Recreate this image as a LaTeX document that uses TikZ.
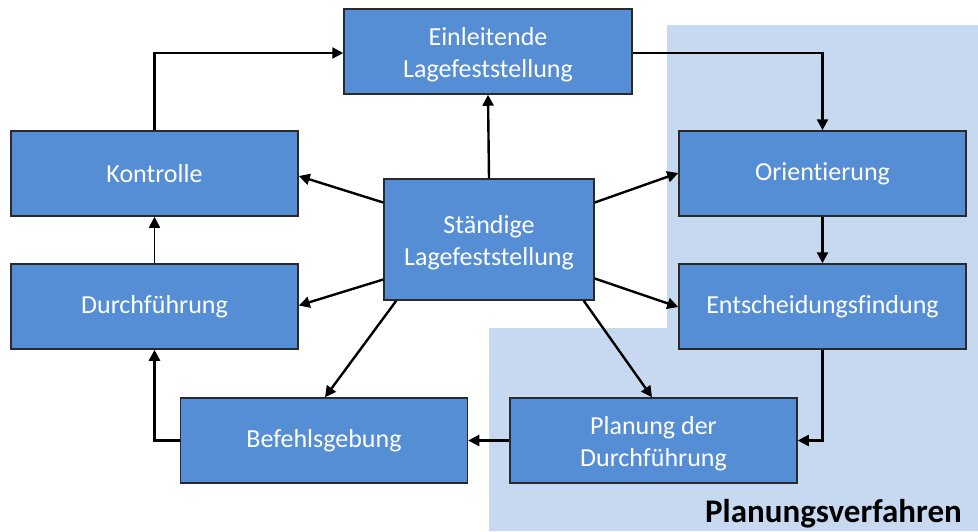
\documentclass[tikz,border=0pt]{standalone}
\usepackage{fontspec}
\setmainfont{Carlito}[Ligatures=NoCommon]
\usetikzlibrary{arrows.meta,calc}
\definecolor{boxblue}{HTML}{558ED5}
\definecolor{boxline}{HTML}{2A2A2A}
\definecolor{bgblue}{HTML}{C6D9F1}
\newcommand{\twolines}[2]{\raisebox{-4pt}[\height][\depth]{\begin{tabular}{@{}c@{}}#1\\#2\end{tabular}}}
\tikzset{
  stepbox/.style={rectangle,draw=boxline,line width=1.5pt,fill=boxblue,text=white,
    minimum width=287pt,minimum height=85pt,align=center,inner sep=0pt,
    font=\fontsize{26}{32}\selectfont},
  conn/.style={line width=2.4pt,-{Triangle[length=11pt,width=11pt]}}
}
\begin{document}
\begin{tikzpicture}[x=1pt,y=-1pt]
\useasboundingbox (0,0) rectangle (978,531);
\fill[bgblue] (667,25) -- (978,25) -- (978,531) -- (489,531) -- (489,328) -- (667,328) -- cycle;
\node[stepbox,minimum width=288pt] (ein) at (488,51.5) {\twolines{Einleitende}{Lagefeststellung}};
\node[stepbox] (kon) at (154.5,173.5) {Kontrolle};
\node[stepbox] (dur) at (154.5,306.5) {Durchführung};
\node[stepbox,minimum width=210pt,minimum height=121pt] (sta) at (489,239.5) {\twolines{Ständige}{Lagefeststellung}};
\node[stepbox] (ori) at (822.5,173.5) {Orientierung};
\node[stepbox] (ent) at (822.5,306.5) {Entscheidungsfindung};
\node[stepbox] (bef) at (324,440.5) {Befehlsgebung};
\node[stepbox] (pla) at (653.5,440.5) {\twolines{Planung der}{Durchführung}};
\node[font=\bfseries\fontsize{33}{38}\selectfont,anchor=base] (pv) at (833.5,522) {Planungsverfahren};
% cycle
\draw[conn] (kon.north) |- ($(ein.west)+(0,1.5)$);
\draw[conn] ($(ein.east)+(0,1.5)$) -| (ori.north);
\draw[conn] (ori.south) -- (ent.north);
\draw[conn] (ent.south) |- (pla.east);
\draw[conn] (pla.west) -- (bef.east);
\draw[conn] (bef.west) -| (dur.south);
\draw[conn,line width=1.6pt] (dur.north) -- (kon.south);
% radial
\draw[conn] (sta.north) -- (ein.south);
\draw[conn] ($(sta.west)+(0,-37)$) -- ($(kon.east)+(0,2.5)$);
\draw[conn] ($(sta.west)+(0,40)$) -- ($(dur.east)+(0,-1)$);
\draw[conn] ($(sta.east)+(0,-37)$) -- ($(ori.west)+(0,-0.5)$);
\draw[conn] ($(sta.east)+(0,39)$) -- ($(ent.west)+(0,0.5)$);
\draw[conn] ($(sta.south west)+(13,0)$) -- ($(bef.north)+(1,0)$);
\draw[conn] ($(sta.south east)+(-11,0)$) -- ($(pla.north)+(-1.5,0)$);
\end{tikzpicture}
\end{document}
